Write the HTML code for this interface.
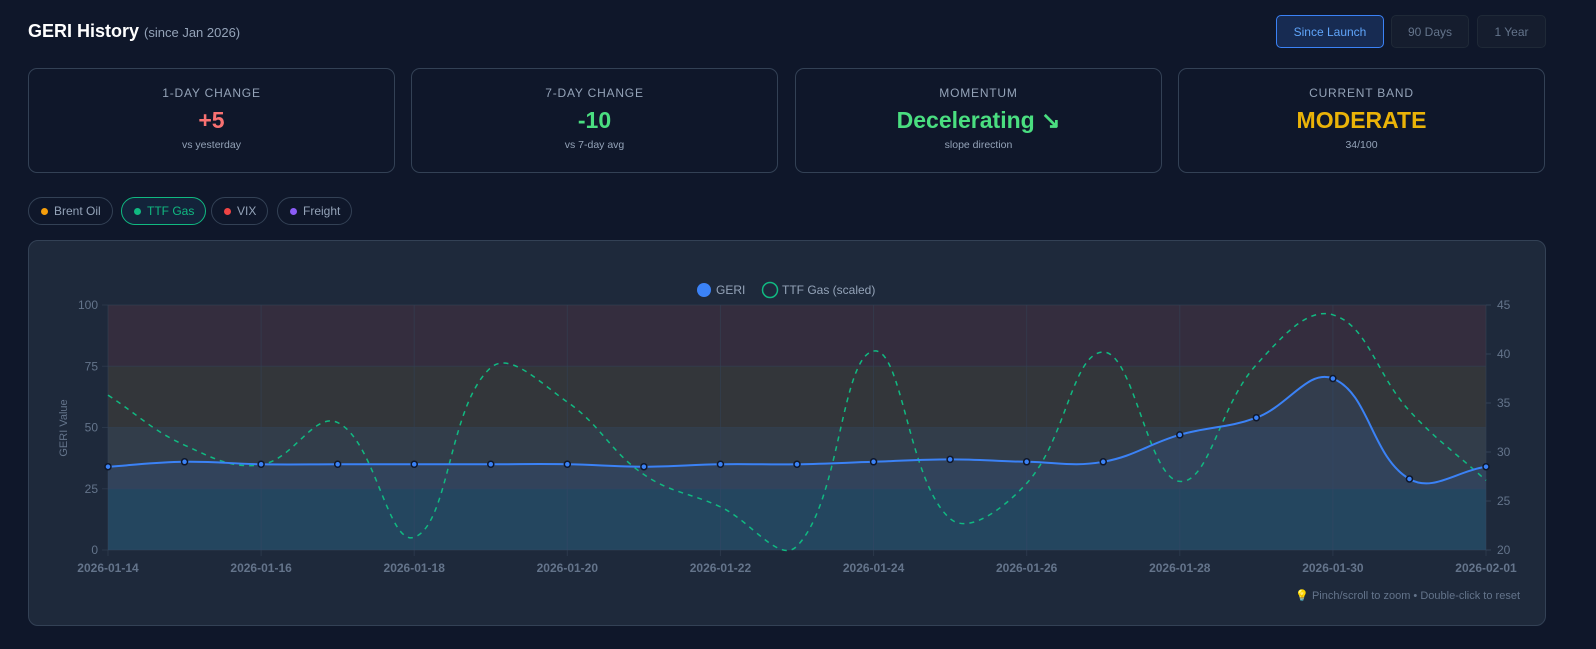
<!DOCTYPE html>
<html><head><meta charset="utf-8">
<style>
*{box-sizing:border-box;margin:0;padding:0}
body{width:1596px;height:649px;background:#0f172a;font-family:"Liberation Sans",sans-serif;color:#e2e8f0;position:relative;overflow:hidden}
.title{position:absolute;left:28px;top:21px;font-size:18px;font-weight:bold;color:#fff}
.title span{font-size:13px;font-weight:normal;color:#94a3b8}
.btn{position:absolute;top:15px;height:33px;border-radius:5px;font-size:12px;display:flex;align-items:center;justify-content:center;border:1px solid #1f2937;background:#151d2e;color:#64748b}
.btn.active{border-color:#3b82f6;background:#172b52;color:#60a5fa}
.card{position:absolute;top:68px;width:367px;height:105px;border:1px solid #334155;border-radius:9px;text-align:center}
.card .l{margin-top:17px;font-size:12px;letter-spacing:0.8px;color:#94a3b8}
.card .v{margin-top:7px;font-size:23px;font-weight:bold;line-height:26px}
.card .s{margin-top:6px;font-size:10.5px;color:#94a3b8}
.pill{position:absolute;top:197px;height:28px;border:1px solid #334155;border-radius:14px;font-size:12px;color:#94a3b8;display:flex;align-items:center;padding:0 11px 0 12px}
.pill i{width:7px;height:7px;border-radius:50%;display:inline-block;margin-right:6px}
.pill.active{border-color:#10b981;color:#10b981;background:#13233a}
.chartbox{position:absolute;left:28px;top:240px;width:1518px;height:386px;background:#1e293b;border:1px solid #334155;border-radius:10px}
</style></head><body>
<div class="title">GERI History <span>(since Jan 2026)</span></div>
<div class="btn active" style="left:1276px;width:108px">Since Launch</div>
<div class="btn" style="left:1391px;width:78px">90 Days</div>
<div class="btn" style="left:1477px;width:69px">1 Year</div>

<div class="card" style="left:28px"><div class="l">1-DAY CHANGE</div><div class="v" style="color:#f87171">+5</div><div class="s">vs yesterday</div></div>
<div class="card" style="left:411px"><div class="l">7-DAY CHANGE</div><div class="v" style="color:#4ade80">-10</div><div class="s">vs 7-day avg</div></div>
<div class="card" style="left:795px"><div class="l">MOMENTUM</div><div class="v" style="color:#4ade80">Decelerating ↘</div><div class="s">slope direction</div></div>
<div class="card" style="left:1178px"><div class="l">CURRENT BAND</div><div class="v" style="color:#eab308">MODERATE</div><div class="s">34/100</div></div>

<div class="pill" style="left:28px"><i style="background:#f59e0b"></i>Brent Oil</div>
<div class="pill active" style="left:121px"><i style="background:#10b981"></i>TTF Gas</div>
<div class="pill" style="left:211px"><i style="background:#ef4444"></i>VIX</div>
<div class="pill" style="left:277px"><i style="background:#8b5cf6"></i>Freight</div>

<div class="chartbox"></div>
<svg id="chart" width="1596" height="649" style="position:absolute;left:0;top:0" font-family="Liberation Sans, sans-serif"></svg>
<script>
const dates=["2026-01-14","2026-01-15","2026-01-16","2026-01-17","2026-01-18","2026-01-19","2026-01-20","2026-01-21","2026-01-22","2026-01-23","2026-01-24","2026-01-25","2026-01-26","2026-01-27","2026-01-28","2026-01-29","2026-01-30","2026-01-31","2026-02-01"];
const geri=[34,36,35,35,35,35,35,34,35,35,36,37,36,36,47,54,70,29,34];
const ttf=[35.8,30.7,28.7,33,21.3,38.6,35.1,27.7,24.4,20.4,40.3,23.2,26.8,40.2,27,38.9,44,34.2,27.1];
const leftTicks=[0,25,50,75,100];
const rightTicks=[20,25,30,35,40,45];
const bands=[[0,25,"#22404f"],[25,50,"#323d4a"],[50,75,"#33363a"],[75,100,"#342d3e"]];
const NS="http://www.w3.org/2000/svg";
const svg=document.getElementById("chart");
const X0=108,X1=1486,Y0=550,Y1=305;
const xs=i=>X0+(X1-X0)*i/(dates.length-1);
const yl=v=>Y0-(v-0)/(100-0)*(Y0-Y1);
const yr=v=>Y0-(v-20)/(45-20)*(Y0-Y1);
function mk(tag,attrs,parent){const e=document.createElementNS(NS,tag);for(const k in attrs)e.setAttribute(k,attrs[k]);(parent||svg).appendChild(e);return e;}
bands.forEach(b=>{const r=mk("rect",{x:X0,y:yl(b[1]),width:X1-X0,height:yl(b[0])-yl(b[1]),fill:b[2]});

});
leftTicks.forEach(t=>{mk("line",{x1:X0-6,x2:X1,y1:yl(t),y2:yl(t),stroke:"#334155","stroke-width":1,opacity:0.6});
const tx=mk("text",{x:X0-10,y:yl(t)+4,fill:"#64748b","font-size":12,"text-anchor":"end"});tx.textContent=t;

});
rightTicks.forEach(t=>{mk("line",{x1:X1,x2:X1+5,y1:yr(t),y2:yr(t),stroke:"#334155"});
const tx=mk("text",{x:X1+11,y:yr(t)+4,fill:"#64748b","font-size":12});tx.textContent=t;

});
dates.forEach((d,i)=>{if(i%2)return;mk("line",{x1:xs(i),x2:xs(i),y1:Y1,y2:Y0+6,stroke:"#334155",opacity:0.6});
const tx=mk("text",{x:xs(i),y:Y0+22,fill:"#64748b","font-size":12,"text-anchor":"middle","font-weight":"bold"});tx.textContent=d;

});
const yt=mk("text",{transform:"translate(67,428) rotate(-90)",fill:"#64748b","font-size":11,"text-anchor":"middle"});yt.textContent="GERI Value";


function spline(pts,t){let d="M"+pts[0][0]+","+pts[0][1];const cps=[];
for(let i=0;i<pts.length;i++){const p=pts[i-1]||pts[i],c=pts[i],n=pts[i+1]||pts[i];
const d01=Math.hypot(c[0]-p[0],c[1]-p[1]),d12=Math.hypot(n[0]-c[0],n[1]-c[1]);
let fa=d01/(d01+d12)||0,fb=d12/(d01+d12)||0;fa*=t;fb*=t;
cps.push([[c[0]-fa*(n[0]-p[0]),c[1]-fa*(n[1]-p[1])],[c[0]+fb*(n[0]-p[0]),c[1]+fb*(n[1]-p[1])]]);}
for(let i=1;i<pts.length;i++){const a=cps[i-1][1],b=cps[i][0];d+=" C"+a[0]+","+a[1]+" "+b[0]+","+b[1]+" "+pts[i][0]+","+pts[i][1];}
return d;}
const gp=geri.map((v,i)=>[xs(i),yl(v)]);
const tp=ttf.map((v,i)=>[xs(i),yr(v)]);
const gd=spline(gp,0.4);
const area=mk("path",{d:gd+` L${X1},${Y0} L${X0},${Y0} Z`,fill:"rgba(59,130,246,0.1)"});


const tl=mk("path",{d:spline(tp,0.4),fill:"none",stroke:"#10b981","stroke-width":1.5,"stroke-dasharray":"5 5"});


const gl=mk("path",{d:gd,fill:"none",stroke:"#3b82f6","stroke-width":2});


gp.forEach(p=>{const c=mk("circle",{cx:p[0],cy:p[1],r:3,fill:"#3b82f6",stroke:"#0f172a","stroke-width":1.5});

});
const l1=mk("circle",{cx:704,cy:290,r:7,fill:"#3b82f6"});


const lt1=mk("text",{x:716,y:294,fill:"#94a3b8","font-size":12});lt1.textContent="GERI";


const l2=mk("circle",{cx:770,cy:290,r:7.5,fill:"none",stroke:"#10b981","stroke-width":1.5});


const lt2=mk("text",{x:782,y:294,fill:"#94a3b8","font-size":12});lt2.textContent="TTF Gas (scaled)";


const hint=mk("text",{x:1520,y:599,fill:"#64748b","font-size":11,"text-anchor":"end"});hint.textContent="💡 Pinch/scroll to zoom • Double-click to reset";


</script>
</body></html>
